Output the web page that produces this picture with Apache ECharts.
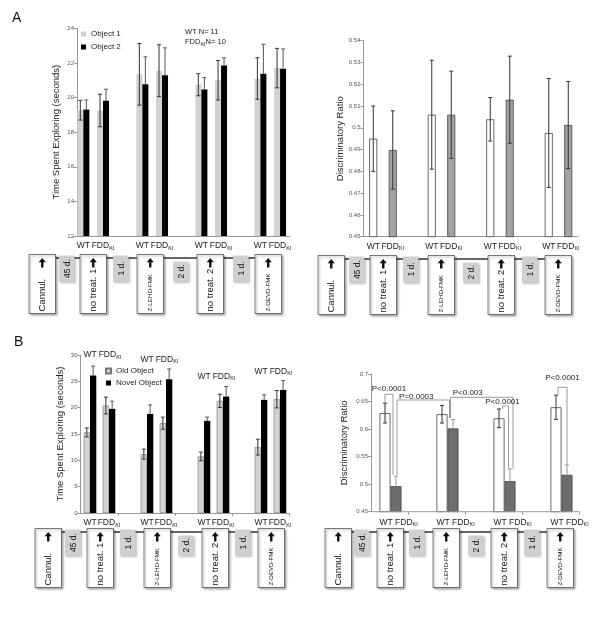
<!DOCTYPE html>
<html><head><meta charset="utf-8">
<script src="https://cdn.jsdelivr.net/npm/echarts@6/dist/echarts.min.js"></script>
<style>html,body{margin:0;padding:0;background:#fff}#c{width:600px;height:626px}</style>
</head><body><div id="c"></div>
<script>
// ---------------- data ----------------
const slotLabels = ['WT','FDD','','WT','FDD','','WT','FDD','','WT','FDD'];
// Panel A left: time spent exploring (s)
const aObj1Mean = [19.27, 19.25, null, 21.34, 21.55, null, 20.74, 21.0, null, 21.1, 21.7];
const aObj1Err  = [0.57, 0.94, null, 1.78, 1.5, null, 0.64, 1.14, null, 1.2, 1.14];
const aObj2Mean = [19.31, 19.81, null, 20.77, 21.29, null, 20.46, 21.85, null, 21.38, 21.67];
const aObj2Err  = [0.55, 0.67, null, 1.58, 1.58, null, 0.69, 0.44, null, 1.7, 1.14];
// Panel A right: discriminatory ratio
const aRatioMean = [0.495, 0.4898, null, 0.506, 0.506, null, 0.5039, 0.5129, null, 0.4976, 0.5013];
const aRatioErr  = [0.015, 0.018, null, 0.025, 0.020, null, 0.010, 0.020, null, 0.025, 0.020];
// Panel B left
const bOldMean   = [15.3, 20.4, null, 11.18, 17.05, null, 10.74, 21.29, null, 12.51, 21.6];
const bOldErr    = [0.85, 1.6, null, 0.95, 1.15, null, 0.82, 1.26, null, 1.5, 1.64];
const bNovelMean = [26.09, 19.77, null, 18.82, 25.4, null, 17.5, 22.11, null, 21.48, 23.37];
const bNovelErr  = [1.8, 1.45, null, 1.7, 1.95, null, 0.7, 1.9, null, 0.95, 1.77];
const bTopLabelY = [30, 29.2, 25.9, 26.8];
// Panel B right
const bGroups   = ['WT FDD','WT FDD','WT FDD','WT FDD'];
const bWtMean   = [0.629, 0.627, 0.6195, 0.6396];
const bWtErr    = [0.018, 0.016, 0.017, 0.022];
const bFddMean  = [0.4963, 0.6012, 0.5055, 0.517];
const bFddErr   = [0.018, 0.016, 0.022, 0.018];
const brackets = [
  {label:'P<0.0001', a:[0,'wt',0,0.647],  b:[0,'fdd',-3,0.5166], top:0.6631, lx:0,   ly:0.6728},
  {label:'P=0.0003', a:[0,'fdd',1,0.5166], b:[1,'fdd',-3.5,0.62], top:0.6528, lx:-7,  ly:0.6582},
  {label:'P<0.003',  a:[1,'fdd',-2.5,0.62], b:[2,'fdd',3,0.528],  top:0.6577, lx:-14, ly:0.6655},
  {label:'P<0.0001', a:[2,'wt',3.5,0.6366], b:[2,'fdd',-1.5,0.528], top:0.6419, lx:-3, ly:0.6492},
  {label:'P<0.0001', a:[3,'wt',2,0.6616], b:[3,'fdd',0,0.535], top:0.6759, lx:0, ly:0.6934}
];
// timelines
const tlLabels = ['Cannul.','45 d.','no treat. 1','1 d.','Z-LEHD-FMK','2 d.','no treat. 2','1 d.','Z-DEVD-FMK'];
const tlKinds  = ['main','gap','main','gap','mainS','gap2','main','gap','mainS'];
const timelines = [
  {xs:[29,59,80,113,137,173,197,233,255], y:258},
  {xs:[318,349,370,403,428,463,488,522,545], y:259},
  {xs:[35,65,87,120,144,178,202,235,258], y:532},
  {xs:[325,354,377,409,433,468,491,524,547], y:532}
];

const FF = '"Liberation Sans", Arial, Helvetica, sans-serif';
const chart = echarts.init(document.getElementById('c'), null, {renderer:'canvas'});

const subRich = {s:{fontSize:5.5, fontFamily:FF, color:'#222', padding:[4,0,0,0]}};
function catFmt(v){ if(v==='FDD') return 'FDD{s|KI}'; if(v==='WT FDD') return 'WT FDD{s|KI}'; return v; }
function errData(means, errs){ return means.map((m,i)=> m==null?null:[i,m,errs[i]]).filter(Boolean); }
function errRender(offset, upOnly, color){
  return function(params, api){
    const x = api.value(0), m = api.value(1), e = api.value(2);
    const t = api.coord([x, m+e]), b = api.coord([x, upOnly ? m : m-e]);
    const cx = t[0] + offset, cw = 2;
    const st = {stroke:color, lineWidth:1};
    const ch = [
      {type:'line', shape:{x1:cx,y1:t[1],x2:cx,y2:b[1]}, style:st},
      {type:'line', shape:{x1:cx-cw,y1:t[1],x2:cx+cw,y2:t[1]}, style:st}
    ];
    if(!upOnly) ch.push({type:'line', shape:{x1:cx-cw,y1:b[1],x2:cx+cw,y2:b[1]}, style:st});
    return {type:'group', children:ch};
  };
}
function errSeries(idx, means, errs, offset, upOnly, color){
  return {type:'custom', xAxisIndex:idx, yAxisIndex:idx, data:errData(means, errs), renderItem:errRender(offset, upOnly, color||'#333'), z:5, silent:true, encode:{x:0,y:1}};
}

const gridA1 = {left:73.5, top:28.3, width:216.4, height:207.7};
const gridA2 = {left:363.5, top:40.7, width:214.5, height:196};
const gridB1 = {left:80.5, top:355, width:209, height:158};
const gridB2 = {left:351, top:374, width:228, height:137.7};

function xCat(idx, data, extra){
  return Object.assign({gridIndex:idx, type:'category', data:data,
    axisLine:{show:true, lineStyle:{color:'#999', width:1}},
    axisTick:{show:false},
    axisLabel:{interval:0, fontSize:8.5, color:'#222', margin:5, fontFamily:FF, formatter:catFmt, rich:subRich},
    splitLine:{show:false}}, extra||{});
}
function yVal(idx, min, max, interval, name, nameGap, offset){
  return {gridIndex:idx, type:'value', min:min, max:max, interval:interval, offset:offset||0,
    name:name, nameLocation:'middle', nameGap:nameGap,
    nameTextStyle:{fontSize:9.5, color:'#222', fontFamily:FF},
    axisLine:{show:true, lineStyle:{color:'#999', width:1}},
    axisTick:{show:true, length:3, lineStyle:{color:'#999'}},
    axisLabel:{fontSize:6, color:'#555', margin:3, fontFamily:FF},
    splitLine:{show:false}};
}

const option = {
  animation:false,
  textStyle:{fontFamily:FF},
  grid:[gridA1, gridA2, gridB1, gridB2],
  xAxis:[
    xCat(0, slotLabels),
    xCat(1, slotLabels),
    xCat(2, slotLabels, {axisTick:{show:true, length:3, lineStyle:{color:'#999'}, interval:function(i){return i===2||i===5||i===8;}}}),
    xCat(3, bGroups, {axisLine:{show:false}, axisTick:{show:true, length:3, lineStyle:{color:'#999'}, interval:function(i){return i>0;}},
      axisLabel:{interval:0, fontSize:8.5, color:'#222', margin:6, align:'left', fontFamily:FF, formatter:catFmt, rich:subRich}})
  ],
  yAxis:[
    yVal(0, 12, 24, 2, 'Time Spent Exploring (seconds)', 15.5, -3.5),
    yVal(1, 0.45, 0.54, 0.01, 'Discriminatory Ratio', 17.5, 0),
    yVal(2, 0, 30, 5, 'Time Spent Exploring (seconds)', 15.5, 0),
    yVal(3, 0.45, 0.7, 0.05, 'Discriminatory Ratio', 21.5, -20)
  ],
  legend:[
    {data:['Object 1','Object 2'], orient:'vertical', left:81, top:30, itemWidth:5, itemHeight:5, itemGap:5, padding:0, selectedMode:false,
     icon:'rect', textStyle:{fontSize:8, color:'#222', fontFamily:FF}},
    {data:['Old Object','Novel Object'], orient:'vertical', left:105, top:367, itemWidth:5, itemHeight:5, itemGap:4, padding:0, selectedMode:false,
     icon:'rect', textStyle:{fontSize:8, color:'#222', fontFamily:FF}}
  ],
  series:[
    {name:'Object 1', type:'bar', xAxisIndex:0, yAxisIndex:0, data:aObj1Mean, barWidth:6, barGap:'0%', itemStyle:{color:'#d2d2d2'}},
    {name:'Object 2', type:'bar', xAxisIndex:0, yAxisIndex:0, data:aObj2Mean, barWidth:6, barGap:'0%', itemStyle:{color:'#000'}},
    errSeries(0, aObj1Mean, aObj1Err, -3, false),
    errSeries(0, aObj2Mean, aObj2Err, 3, true, '#555'),

    {name:'Ratio A', type:'bar', xAxisIndex:1, yAxisIndex:1, barWidth:8,
     data:aRatioMean.map((v,i)=> v==null?null:{value:v, itemStyle:{color: slotLabels[i]==='WT'?'#ffffff':'#a3a3a3'}}),
     itemStyle:{borderColor:'#444', borderWidth:0.8}},
    errSeries(1, aRatioMean, aRatioErr, 0, false),

    {name:'Old Object', type:'bar', xAxisIndex:2, yAxisIndex:2, data:bOldMean, barWidth:6.3, barGap:'0%', itemStyle:{color:'#d4d4d4', borderColor:'#777', borderWidth:0.6}},
    {name:'Novel Object', type:'bar', xAxisIndex:2, yAxisIndex:2, data:bNovelMean, barWidth:6.3, barGap:'0%', itemStyle:{color:'#000'}},
    errSeries(2, bOldMean, bOldErr, -3.15, false),
    errSeries(2, bNovelMean, bNovelErr, 3.15, true, '#555'),

    {name:'pad1', type:'bar', xAxisIndex:3, yAxisIndex:3, data:[null,null,null,null], barWidth:11, barGap:'0%'},
    {name:'pad2', type:'bar', xAxisIndex:3, yAxisIndex:3, data:[null,null,null,null], barWidth:11, barGap:'0%'},
    {name:'WT B', type:'bar', xAxisIndex:3, yAxisIndex:3, data:bWtMean, barWidth:11, barGap:'0%', itemStyle:{color:'#fff', borderColor:'#444', borderWidth:0.8}},
    {name:'FDD B', type:'bar', xAxisIndex:3, yAxisIndex:3, data:bFddMean, barWidth:11, barGap:'0%', itemStyle:{color:'#6e6e6e', borderColor:'#444', borderWidth:0.8}},
    errSeries(3, bWtMean, bWtErr, 5.5, false),
    errSeries(3, bFddMean, bFddErr, 16.5, true, '#999')
  ]
};
chart.setOption(option);

// ---------------- annotations ----------------
const G = [];
function txt(x, y, text, size, opts){
  G.push(Object.assign({type:'text', x:x, y:y, z:10, style:Object.assign({text:text, fontSize:size, fill:'#222', fontFamily:FF, align:'left', verticalAlign:'middle', rich:{s:{fontSize:5.5, fontFamily:FF, fill:'#222', padding:[4,0,0,0]}}}, opts||{})}));
}
txt(12, 18, 'A', 14, {fill:'#111'});
txt(14, 342, 'B', 14, {fill:'#111'});
txt(185, 32, 'WT N= 11', 7.5);
txt(185, 42, 'FDD{s|KI}N= 10', 7.5);

// B left labels above groups
for(let g=0; g<4; g++){
  const pw = chart.convertToPixel({gridIndex:2}, [g*3, bTopLabelY[g]]);
  const pf = chart.convertToPixel({gridIndex:2}, [g*3+1, bTopLabelY[g]]);
  txt(pw[0], pw[1], 'WT', 8.5, {align:'center'});
  txt(pf[0]+1, pf[1], 'FDD{s|KI}', 8.5, {align:'center'});
}

// B right x axis line
{
  const p0 = chart.convertToPixel({gridIndex:3}, [0, 0.45]);
  const p3 = chart.convertToPixel({gridIndex:3}, [3, 0.45]);
  const half = gridB2.width/bGroups.length/2;
  G.push({type:'line', z:4, shape:{x1:gridB2.left+20, y1:p0[1], x2:p3[0]+half, y2:p0[1]}, style:{stroke:'#999', lineWidth:1}});
}
// brackets
function barX(cat, which){ const c = chart.convertToPixel({gridIndex:3}, [cat, 0.5])[0]; return c + (which==='wt'?5.5:16.5); }
function yPix(v){ return chart.convertToPixel({gridIndex:3}, [0, v])[1]; }
brackets.forEach(b=>{
  const xa = barX(b.a[0], b.a[1]) + b.a[2], xb = barX(b.b[0], b.b[1]) + b.b[2];
  const yt = yPix(b.top);
  G.push({type:'polyline', z:6, shape:{points:[[xa, yPix(b.a[3])],[xa, yt],[xb, yt],[xb, yPix(b.b[3])]]}, style:{stroke:'#9a9a9a', lineWidth:1, fill:null}});
  txt((xa+xb)/2 + b.lx, yPix(b.ly), b.label, 8, {align:'center'});
});

// timelines
timelines.forEach(t=>{
  const mainW = 26.5, gapW = 15.5;
  G.push({type:'line', z:1, shape:{x1:t.xs[0]+mainW, y1:t.y, x2:t.xs[8], y2:t.y}, style:{stroke:'#333', lineWidth:1.5}});
  t.xs.forEach((x,i)=>{
    const k = tlKinds[i];
    if(k.indexOf('main')===0){
      const top = t.y-3.5, h = 59, cx = x+mainW/2;
      G.push({type:'rect', z:2, shape:{x:x, y:top, width:mainW, height:h}, style:{fill:'#fff', stroke:'#555', lineWidth:0.8, shadowBlur:2, shadowOffsetX:1.5, shadowOffsetY:1.5, shadowColor:'rgba(0,0,0,0.35)'}});
      const at = top+3.5;
      G.push({type:'polygon', z:3, shape:{points:[[cx,at],[cx+3.6,at+4.2],[cx+1.2,at+4.2],[cx+1.2,at+9.5],[cx-1.2,at+9.5],[cx-1.2,at+4.2],[cx-3.6,at+4.2]]}, style:{fill:'#111'}});
      G.push({type:'text', z:3, x:cx+0.5, y:top+h-2, rotation:Math.PI/2, style:{text:tlLabels[i], fontSize: k==='mainS'?6.2:9.5, fill:'#111', fontFamily:FF, align:'left', verticalAlign:'middle'}});
    } else {
      const top = k==='gap2' ? t.y+3.5 : t.y-2.5, h = k==='gap2' ? 20 : 26;
      G.push({type:'rect', z:2, shape:{x:x, y:top, width:gapW, height:h}, style:{fill:'#d0d0d0', shadowBlur:2, shadowOffsetX:1, shadowOffsetY:1, shadowColor:'rgba(0,0,0,0.25)'}});
      G.push({type:'text', z:3, x:x+gapW/2+0.5, y:top+h/2, rotation:Math.PI/2, style:{text:tlLabels[i], fontSize:8.5, fill:'#111', fontFamily:FF, align:'center', verticalAlign:'middle'}});
    }
  });
});
chart.setOption({graphic:G});
</script></body></html>
